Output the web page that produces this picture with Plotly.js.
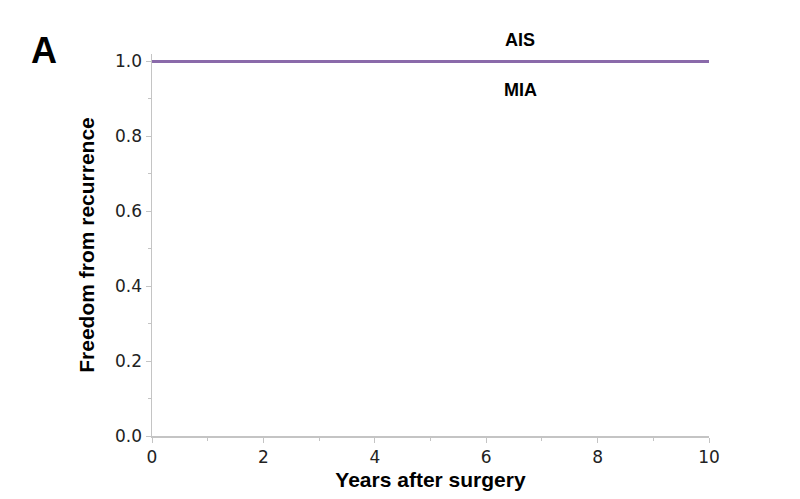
<!DOCTYPE html>
<html>
<head>
<meta charset="utf-8">
<script src="https://cdn.plot.ly/plotly-3.0.1.min.js"></script>
<style>html,body{margin:0;padding:0;background:#fff;}#chart{width:800px;height:499px;}</style>
</head>
<body>
<div id="chart"></div>
<script>
var years = [0, 10];
var freedomAIS = [1.0, 1.0];
var freedomMIA = [1.0, 1.0];
var groupLabels = ['AIS', 'MIA'];
var panelLabel = 'A';

var purple = '#8a6aaa';

var traces = [
  {x: years, y: freedomMIA, type: 'scatter', mode: 'lines', line: {color: purple, width: 3, shape: 'hv'}, name: groupLabels[1], hoverinfo: 'skip'},
  {x: years, y: freedomAIS, type: 'scatter', mode: 'lines', line: {color: purple, width: 3, shape: 'hv'}, name: groupLabels[0], hoverinfo: 'skip'}
];

var tickFont = {family: 'DejaVu Sans, Verdana, sans-serif', size: 17, color: '#222'};
var titleFont = {family: 'Liberation Sans, Arial, sans-serif', size: 21, color: '#000', weight: 'bold'};

var layout = {
  width: 800, height: 499,
  margin: {l: 152, r: 91, t: 53.5, b: 63},
  paper_bgcolor: '#fff', plot_bgcolor: '#fff',
  showlegend: false,
  xaxis: {
    range: [0, 10], dtick: 2, tick0: 0,
    showgrid: false, zeroline: false,
    showline: true, linecolor: '#c4c4c4', linewidth: 1.5,
    ticks: 'outside', ticklen: 5, tickcolor: '#c4c4c4', tickwidth: 1,
    minor: {dtick: 1, ticks: 'outside', ticklen: 3, tickcolor: '#c4c4c4', showgrid: false},
    tickfont: tickFont,
    title: {text: 'Years after surgery', font: titleFont, standoff: 6}
  },
  yaxis: {
    range: [0, 1.02], tickvals: [0, 0.2, 0.4, 0.6, 0.8, 1.0], tickformat: '.1f',
    showgrid: false, zeroline: false,
    showline: true, linecolor: '#c4c4c4', linewidth: 1.5,
    ticks: 'outside', ticklen: 5, tickcolor: '#c4c4c4', tickwidth: 1,
    minor: {tickvals: [0.1, 0.3, 0.5, 0.7, 0.9], ticks: 'outside', ticklen: 3, tickcolor: '#c4c4c4', showgrid: false},
    tickfont: tickFont,
    title: {text: 'Freedom from recurrence', font: titleFont, standoff: 14}
  },
  annotations: [
    {x: 6.61, y: 1.0, xref: 'x', yref: 'y', text: '<b>' + groupLabels[0] + '</b>', showarrow: false, yshift: 21,
     font: {family: 'Liberation Sans, Arial, sans-serif', size: 18, color: '#000'}},
    {x: 6.61, y: 1.0, xref: 'x', yref: 'y', text: '<b>' + groupLabels[1] + '</b>', showarrow: false, yshift: -29,
     font: {family: 'Liberation Sans, Arial, sans-serif', size: 18, color: '#000'}},
    {x: -0.22, y: 1.068, xref: 'paper', yref: 'paper', text: '<b>' + panelLabel + '</b>', showarrow: false,
     font: {family: 'Liberation Sans, Arial, sans-serif', size: 36, color: '#000'}}
  ]
};

Plotly.newPlot('chart', traces, layout, {displayModeBar: false, staticPlot: true});
</script>
</body>
</html>
